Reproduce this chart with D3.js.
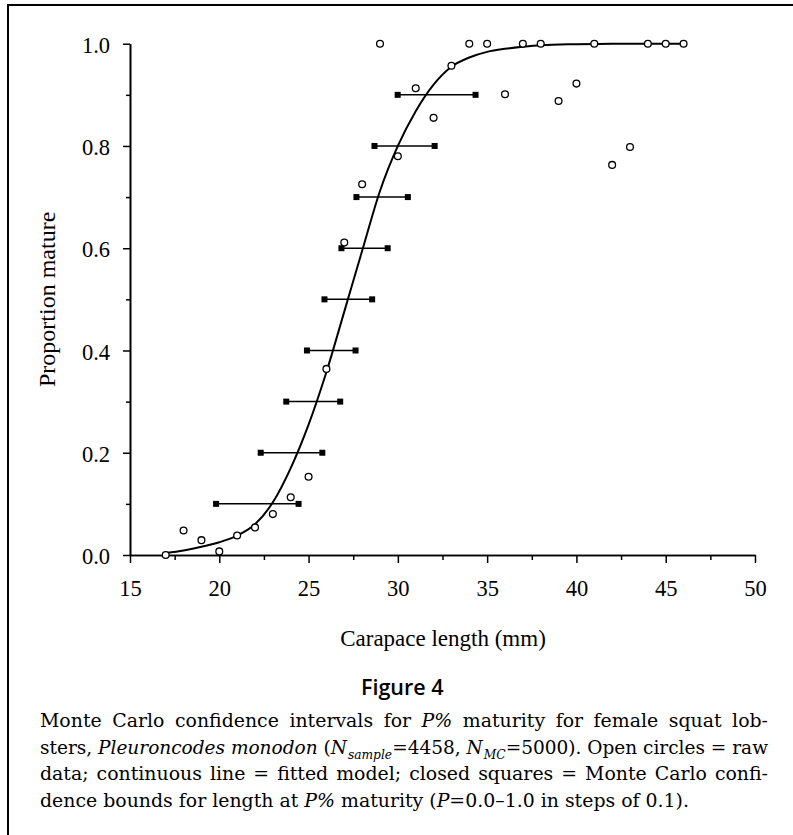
<!DOCTYPE html>
<html>
<head>
<meta charset="utf-8">
<script src="https://cdn.jsdelivr.net/npm/d3@7"></script>
<style>
  html, body { margin: 0; padding: 0; background: #fff; }
  svg { display: block; }
</style>
</head>
<body>
<svg id="chart" width="793" height="835"></svg>
<script>
// ---- data ----
const rawLength = [17,18,19,20,21,22,23,24,25,26,27,28,29,30,31,32,33,34,35,36,37,38,39,40,41,42,43,44,45,46];
const rawProp   = [0.0,0.048,0.029,0.007,0.038,0.054,0.080,0.113,0.153,0.364,0.611,0.725,1.0,0.780,0.913,0.855,0.957,1.0,1.0,0.901,1.0,1.0,0.888,0.922,1.0,0.763,0.798,1.0,1.0,1.0];

const fitLength = [17,18,19,20,21,22,23,24,25,26,27,28,29,30,31,32,33,34,35,36,37,38,40,42,46];
const fitProp   = [0.004,0.009,0.016,0.025,0.038,0.060,0.103,0.17,0.255,0.358,0.476,0.595,0.712,0.80,0.868,0.92,0.955,0.973,0.984,0.990,0.994,0.997,0.999,1.0,1.0];

const ciP     = [0.1,0.2,0.3,0.4,0.5,0.6,0.7,0.8,0.9];
const ciLower = [19.82,22.32,23.75,24.91,25.89,26.84,27.68,28.69,29.99];
const ciUpper = [24.44,25.77,26.77,27.63,28.56,29.43,30.56,32.06,34.35];

const xMajorTicks = [15,20,25,30,35,40,45,50];
const xMinorTicks = [17.5,22.5,27.5,32.5,37.5,42.5,47.5];
const yMajorTicks = [0.0,0.2,0.4,0.6,0.8,1.0];
const yMinorTicks = [0.1,0.3,0.5,0.7,0.9];

const xTitle = "Carapace length (mm)";
const yTitle = "Proportion mature";
const figTitle = "Figure 4";

// ---- layout ----
const svg = d3.select("#chart");
const serif = "'Liberation Serif', 'Times New Roman', serif";

svg.append("rect").attr("x",0).attr("y",0).attr("width",793).attr("height",835).attr("fill","#fff");
// frame (open to the right and bottom as in the crop)
svg.append("rect").attr("x",8).attr("y",5).attr("width",900).attr("height",900)
  .attr("fill","none").attr("stroke","#000").attr("stroke-width",2);

const x = d3.scaleLinear().domain([15,50]).range([130,755]);
const y = d3.scaleLinear().domain([0,1]).range([555,43.7]);

// axes
const gx = svg.append("g").attr("transform",`translate(0,${y(0)})`);
gx.call(d3.axisBottom(x).tickValues(xMinorTicks).tickSize(5).tickSizeOuter(0).tickFormat(""));
const gx2 = svg.append("g").attr("transform",`translate(0,${y(0)})`);
gx2.call(d3.axisBottom(x).tickValues(xMajorTicks).tickSize(8).tickSizeOuter(0).tickPadding(17).tickFormat(d3.format("d")));

const gy = svg.append("g").attr("transform",`translate(${x(15)},0)`);
gy.call(d3.axisLeft(y).tickValues(yMinorTicks).tickSize(4).tickSizeOuter(0).tickFormat(""));
const gy2 = svg.append("g").attr("transform",`translate(${x(15)},0)`);
gy2.call(d3.axisLeft(y).tickValues(yMajorTicks).tickSize(7).tickSizeOuter(0).tickPadding(13).tickFormat(d3.format(".1f")));

svg.selectAll(".domain").attr("stroke","#000").attr("stroke-width",1.6);
svg.selectAll(".tick line").attr("stroke","#000").attr("stroke-width",1.5);
svg.selectAll(".tick text").attr("font-family",serif).attr("font-size",22.5).attr("fill","#000");
gy2.selectAll(".tick text").attr("dy","0.38em");

// axis titles
svg.append("text").attr("x",443).attr("y",646).attr("text-anchor","middle")
  .attr("font-family",serif).attr("font-size",23).text(xTitle);
svg.append("text").attr("transform",`translate(55,${(y(0)+y(1))/2}) rotate(-90)`)
  .attr("text-anchor","middle").attr("font-family",serif).attr("font-size",24).text(yTitle);

// CI bars
const ci = ciP.map((p,i)=>({p, lo:ciLower[i], hi:ciUpper[i]}));
svg.append("g").selectAll("line").data(ci).join("line")
  .attr("x1",d=>x(d.lo)).attr("x2",d=>x(d.hi))
  .attr("y1",d=>y(d.p)).attr("y2",d=>y(d.p))
  .attr("stroke","#000").attr("stroke-width",1.5);

// fitted curve
const fit = fitLength.map((l,i)=>[l,fitProp[i]]);
svg.append("path").datum(fit)
  .attr("d", d3.line().x(d=>x(d[0])).y(d=>y(d[1])).curve(d3.curveMonotoneX))
  .attr("fill","none").attr("stroke","#000").attr("stroke-width",2);

// squares
const sq = 6;
const ends = ci.flatMap(d=>[{v:d.lo,p:d.p},{v:d.hi,p:d.p}]);
svg.append("g").selectAll("rect").data(ends).join("rect")
  .attr("x",d=>x(d.v)-sq/2).attr("y",d=>y(d.p)-sq/2)
  .attr("width",sq).attr("height",sq).attr("fill","#000");

// raw circles
const raw = rawLength.map((l,i)=>({l, p:rawProp[i]}));
svg.append("g").selectAll("circle").data(raw).join("circle")
  .attr("cx",d=>x(d.l)).attr("cy",d=>y(d.p)).attr("r",3.4)
  .attr("fill","#fff").attr("stroke","#000").attr("stroke-width",1.3);

// figure label
svg.append("text").attr("x",361).attr("y",695)
  .attr("font-family","'Open Sans', 'Liberation Sans', sans-serif").attr("font-weight",600)
  .attr("font-size",21.5).text(figTitle);

// caption
const capFont = "'DejaVu Serif', serif";
const capLines = [
  [["Monte Carlo confidence intervals for ",""],["P%","i"],[" maturity for female squat lob-",""]],
  [["sters, ",""],["Pleuroncodes monodon","i"],[" (",""],["N","i"],["sample","is"],["=4458, ",""],["N","i"],["MC","is"],["=5000). Open circles = raw",""]],
  [["data; continuous line = fitted model; closed squares = Monte Carlo confi-",""]],
  [["dence bounds for length at ",""],["P%","i"],[" maturity (",""],["P","i"],["=0.0\u20131.0 in steps of 0.1).",""]]
];
const capBase = [727, 753.5, 780, 806.5];
const capLeft = 40, capRight = 768;
capLines.forEach((segs, li) => {
  const t = svg.append("text").attr("x",capLeft).attr("y",capBase[li])
    .attr("font-family",capFont).attr("font-size",18.9).attr("fill","#000");
  let sub = false;
  segs.forEach(([s,st]) => {
    const ts = t.append("tspan").text(s);
    if (st.includes("i")) ts.attr("font-style","italic");
    if (st.includes("s")) { ts.attr("font-size",12.5).attr("dy",5).attr("dx",1); sub = true; }
    else if (sub) { ts.attr("dy",-5); sub = false; }
  });
  if (li < 3) {
    const natural = t.node().getComputedTextLength();
    const full = segs.map(s=>s[0]).join("");
    const nSpaces = (full.match(/ /g)||[]).length;
    const extra = (capRight - capLeft - natural) / nSpaces;
    if (extra >= 0) {
      t.attr("word-spacing", extra);
    } else {
      t.attr("textLength", capRight - capLeft).attr("lengthAdjust", "spacingAndGlyphs");
    }
  }
});
</script>
</body>
</html>
